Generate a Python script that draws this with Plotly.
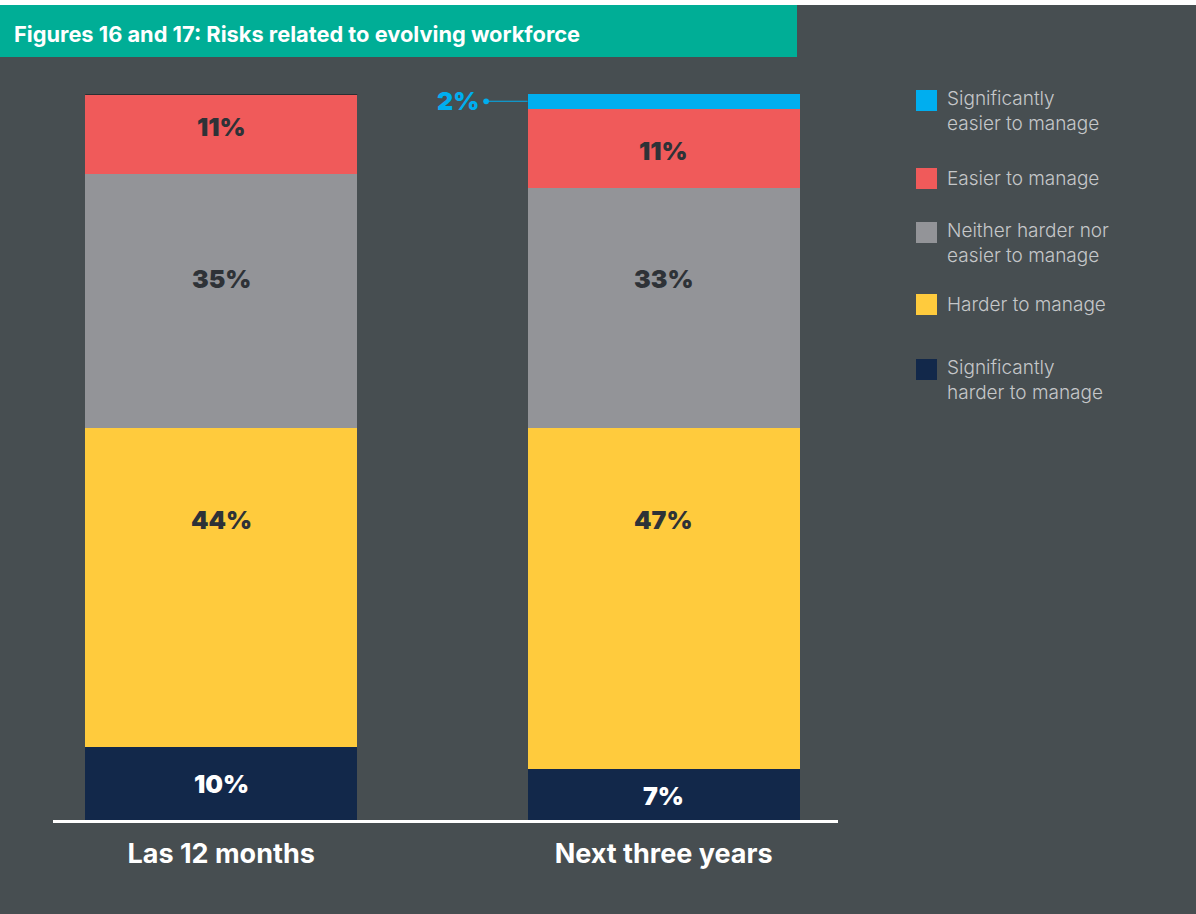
import plotly.graph_objects as go

# ---- data ----
categories = ["Las 12 months", "Next three years"]
series_names = ["Significantly\nharder to manage", "Harder to manage",
                "Neither harder nor\neasier to manage", "Easier to manage",
                "Significantly\neasier to manage"]
sig_harder = [10, 7]
harder = [44, 47]
neither = [35, 33]
easier = [11, 11]
sig_easier = [0, 2]
series_values = [sig_harder, harder, neither, easier, sig_easier]

# ---- style ----
colors = ["#12284a", "#ffcb3d", "#939498", "#f05a5a", "#00aeef"]
label_colors = ["#ffffff", "#2e3237", "#2e3237", "#2e3237", "#00aeef"]
label_y = [[5.0, 3.3], [41.3, 41.3], [74.5, 74.5], [95.5, 92.1], [None, None]]
BG = "#474e51"
W, H = 1196, 914
L, R, T, B = 53, 838, 94, 820
XR = [-0.38, 1.394]
BAR_W = 0.615
FONT = "Inter, Lato, sans-serif"

def px2x(px):
    return (px - L) / (R - L)

def px2y(py):
    return (B - py) / (B - T)

fig = go.Figure()
xs = list(range(len(categories)))
for name, vals, col in zip(series_names, series_values, colors):
    fig.add_trace(go.Bar(x=xs, y=vals, name=name.replace("\n", " "),
                         marker=dict(color=col, line=dict(width=0)),
                         width=BAR_W, showlegend=False, hoverinfo="skip"))

annotations = []
# segment value labels
for si, vals in enumerate(series_values):
    for ci, v in enumerate(vals):
        ly = label_y[si][ci]
        if ly is None or v == 0:
            continue
        annotations.append(dict(x=xs[ci], y=ly, xref="x", yref="y", text=f"{v}%",
                                showarrow=False,
                                font=dict(family=FONT, size=25, color=label_colors[si], weight=900)))

# callout for small segment
ci = 1
top_val = sum(s[ci] for s in series_values)
annotations.append(dict(x=xs[ci] - BAR_W / 2, y=top_val - sig_easier[ci] / 2, xref="x", yref="y",
                        text=f"{sig_easier[ci]}%", showarrow=True, ax=-70, ay=0,
                        arrowside="start", startarrowhead=6, startarrowsize=1.2,
                        arrowwidth=1.2, arrowcolor=colors[4], startstandoff=6,
                        font=dict(family=FONT, size=25, color=colors[4], weight=900)))

# title
annotations.append(dict(x=px2x(12), y=px2y(34), xref="paper", yref="paper",
                        xanchor="left", yanchor="middle", showarrow=False,
                        text="Figures 16 and 17: Risks related to evolving workforce",
                        font=dict(family=FONT, size=21.8, color="#ffffff", weight=700)))

# custom legend (top to bottom)
legend_order = [4, 3, 2, 1, 0]
legend_txt_y = [111, 178.5, 243, 304.5, 380]
legend_sq_y = [100.5, 178.5, 232.5, 304.5, 369.5]
shapes = [
    dict(type="rect", xref="paper", yref="paper", x0=px2x(0), x1=px2x(W), y0=px2y(0), y1=px2y(5),
         fillcolor="#ffffff", line=dict(width=0), layer="below"),
    dict(type="rect", xref="paper", yref="paper", x0=px2x(0), x1=px2x(797), y0=px2y(5), y1=px2y(57),
         fillcolor="#00ae96", line=dict(width=0), layer="below"),
    dict(type="line", xref="x", yref="y", x0=xs[0] - BAR_W / 2, x1=xs[0] + BAR_W / 2, y0=100, y1=100,
         line=dict(color="#2a2f33", width=2)),
]
for k, si in enumerate(legend_order):
    cy = legend_sq_y[k]
    shapes.append(dict(type="rect", xref="paper", yref="paper",
                       x0=px2x(916), x1=px2x(937), y0=px2y(cy - 10.5), y1=px2y(cy + 10.5),
                       fillcolor=colors[si], line=dict(width=0)))
    annotations.append(dict(x=px2x(946), y=px2y(legend_txt_y[k]), xref="paper", yref="paper",
                            xanchor="left", yanchor="middle", align="left", showarrow=False,
                            text=series_names[si].replace("\n", "<br>"), borderpad=0,
                            font=dict(family=FONT, size=19, color="#c5c7c9", weight=300)))

fig.update_layout(
    width=W, height=H, barmode="stack", bargap=0,
    paper_bgcolor=BG, plot_bgcolor=BG,
    margin=dict(l=L, r=W - R, t=T, b=H - B, pad=0),
    annotations=annotations, shapes=shapes, showlegend=False,
    xaxis=dict(range=XR, tickvals=xs, ticktext=categories, showgrid=False, zeroline=False,
               showline=True, linecolor="#ffffff", linewidth=3, ticks="", ticklabelstandoff=8,
               tickfont=dict(family=FONT, size=27, color="#ffffff", weight=700), fixedrange=True),
    yaxis=dict(range=[0, 100], visible=False, showgrid=False, zeroline=False, fixedrange=True),
)

fig.write_html("out.html", config={"displayModeBar": False})
